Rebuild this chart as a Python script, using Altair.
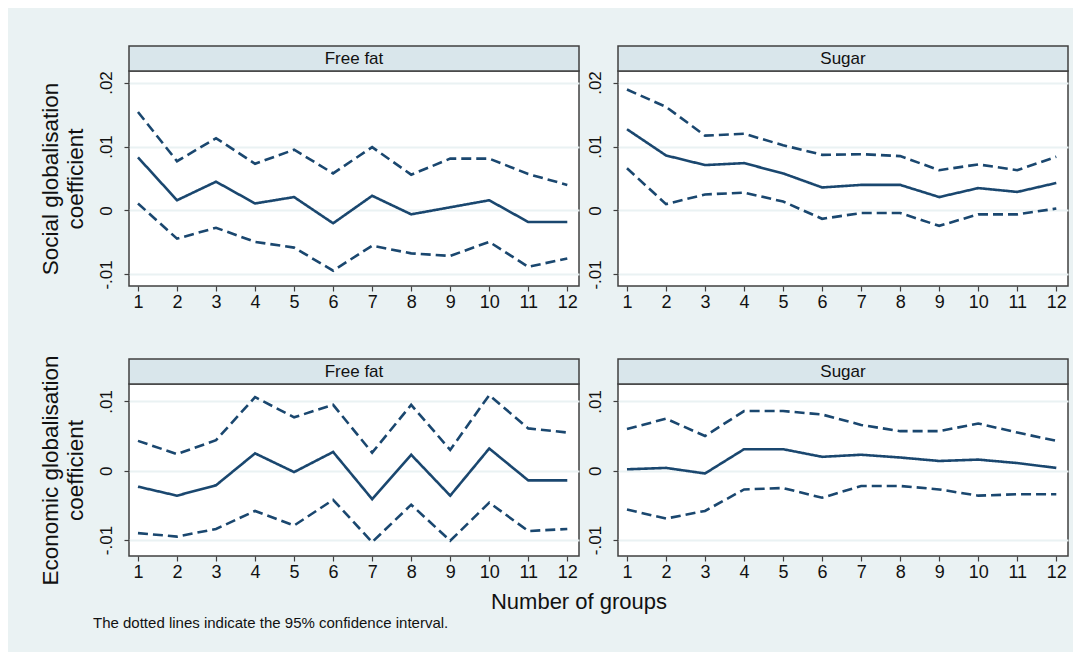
import altair as alt
import pandas as pd

groups = list(range(1, 13))

# Social globalisation, Free fat
ss_ff_mean = [0.0083, 0.0016, 0.0045, 0.0011, 0.0021, -0.0020, 0.0023, -0.0006, 0.0005, 0.0016, -0.0018, -0.0018]
ss_ff_upper = [0.0154, 0.0077, 0.0113, 0.0073, 0.0095, 0.0058, 0.0099, 0.0056, 0.0081, 0.0081, 0.0057, 0.0040]
ss_ff_lower = [0.0011, -0.0044, -0.0027, -0.0049, -0.0058, -0.0094, -0.0055, -0.0067, -0.0071, -0.0049, -0.0088, -0.0075]

# Social globalisation, Sugar
ss_su_mean = [0.0127, 0.0086, 0.0071, 0.0074, 0.0058, 0.0036, 0.0040, 0.0040, 0.0021, 0.0035, 0.0029, 0.0043]
ss_su_upper = [0.0189, 0.0162, 0.0117, 0.0120, 0.0102, 0.0087, 0.0088, 0.0085, 0.0063, 0.0072, 0.0063, 0.0084]
ss_su_lower = [0.0066, 0.0010, 0.0025, 0.0028, 0.0014, -0.0013, -0.0004, -0.0004, -0.0024, -0.0006, -0.0006, 0.0003]

# Economic globalisation, Free fat
ec_ff_mean = [-0.0023, -0.0036, -0.0021, 0.0025, -0.0002, 0.0027, -0.0041, 0.0023, -0.0036, 0.0032, -0.0014, -0.0014]
ec_ff_upper = [0.0043, 0.0024, 0.0044, 0.0106, 0.0077, 0.0095, 0.0026, 0.0095, 0.0030, 0.0109, 0.0061, 0.0055]
ec_ff_lower = [-0.0090, -0.0095, -0.0084, -0.0058, -0.0079, -0.0042, -0.0103, -0.0049, -0.0101, -0.0046, -0.0087, -0.0084]

# Economic globalisation, Sugar
ec_su_mean = [0.0002, 0.0004, -0.0004, 0.0031, 0.0031, 0.0020, 0.0023, 0.0019, 0.0014, 0.0016, 0.0011, 0.0004]
ec_su_upper = [0.0060, 0.0075, 0.0050, 0.0086, 0.0086, 0.0081, 0.0066, 0.0057, 0.0057, 0.0068, 0.0055, 0.0043]
ec_su_lower = [-0.0056, -0.0069, -0.0058, -0.0027, -0.0025, -0.0039, -0.0022, -0.0022, -0.0027, -0.0036, -0.0034, -0.0034]

x_ticks = groups
top_ticks = [-0.01, 0, 0.01, 0.02]
bottom_ticks = [-0.01, 0, 0.01]

NAVY = "#1A476F"
BG = "#EAF2F3"
HDR = "#D9E6EB"
FRAME = "#404040"
FONT = "Liberation Sans"

W = 450
H_TOP = 215
H_BOT = 172
HDR_H = 25


def make_df(mean, upper, lower):
    rows = []
    for name, vals in (("estimate", mean), ("upper", upper), ("lower", lower)):
        for g, v in zip(groups, vals):
            rows.append({"group": g, "value": v, "series": name})
    return pd.DataFrame(rows)


def panel(df, header, ydom, yvals, height, ytitle=None, extras=()):
    yaxis_kwargs = dict(
        values=yvals,
        labelExpr="replace(replace(format(datum.value, '.2~f'), '0.', '.'), '\u2212', '-')",
        labelAngle=270,
        labelAlign="center",
        labelBaseline="bottom",
        labelPadding=9,
        labelFontSize=17,
        grid=True,
    )
    if ytitle is not None:
        yaxis_kwargs.update(title=ytitle, titleFontSize=22.5, titlePadding=10)
    else:
        yaxis_kwargs.update(title=None)
    lines = alt.Chart(df).mark_line(color=NAVY, strokeWidth=2.6).encode(
        x=alt.X("group:Q",
                scale=alt.Scale(domain=[0.77, 12.3], nice=False, zero=False),
                axis=alt.Axis(values=x_ticks, title=None, grid=False, labelFontSize=18,
                              labelPadding=2, format="d")),
        y=alt.Y("value:Q",
                scale=alt.Scale(domain=ydom, nice=False, zero=False),
                axis=alt.Axis(**yaxis_kwargs)),
        strokeDash=alt.StrokeDash("series:N",
                                  scale=alt.Scale(domain=["estimate", "upper", "lower"],
                                                  range=[[1, 0], [10, 5], [10, 5]]),
                                  legend=None),
    )
    hdr_rect = alt.Chart(alt.Data(values=[{"t": header}])).mark_rect(
        fill=HDR, stroke=FRAME, strokeWidth=1.5
    ).encode(x=alt.value(0), x2=alt.value(W), y=alt.value(-HDR_H), y2=alt.value(0))
    hdr_text = alt.Chart(alt.Data(values=[{"t": header}])).mark_text(
        fontSize=17, font=FONT, color="#111111", baseline="middle", align="center"
    ).encode(x=alt.value(W / 2), y=alt.value(-HDR_H / 2), text="t:N")
    layers = [lines, hdr_rect, hdr_text] + list(extras)
    return alt.layer(*layers).properties(width=W, height=height)


top_dom = [-0.0118, 0.0218]
bot_dom = [-0.0123, 0.0125]

xlabel = alt.Chart(alt.Data(values=[{"t": "Number of groups"}])).mark_text(
    fontSize=22, font=FONT, color="#111111", align="center", baseline="middle"
).encode(x=alt.value(W), y=alt.value(218), text="t:N")
note = alt.Chart(alt.Data(values=[{"t": "The dotted lines indicate the 95% confidence interval."}])).mark_text(
    fontSize=15, font=FONT, color="#111111", align="left", baseline="middle"
).encode(x=alt.value(-36), y=alt.value(239), text="t:N")

tl = panel(make_df(ss_ff_mean, ss_ff_upper, ss_ff_lower), "Free fat", top_dom, top_ticks, H_TOP,
           ytitle=["Social globalisation", "coefficient"])
tr = panel(make_df(ss_su_mean, ss_su_upper, ss_su_lower), "Sugar", top_dom, top_ticks, H_TOP)
bl = panel(make_df(ec_ff_mean, ec_ff_upper, ec_ff_lower), "Free fat", bot_dom, bottom_ticks, H_BOT,
           ytitle=["Economic globalisation", "coefficient"], extras=(xlabel, note))
br = panel(make_df(ec_su_mean, ec_su_upper, ec_su_lower), "Sugar", bot_dom, bottom_ticks, H_BOT)

chart = alt.concat(tl, tr, bl, br, columns=2, spacing={"row": 98, "column": 39}, bounds="flush").properties(
    background=BG,
    padding={"left": 30, "top": 36, "right": 3, "bottom": 20},
).resolve_scale(y="independent").configure_view(
    stroke=FRAME, strokeWidth=1.5, fill="white"
).configure_axis(
    domain=False,
    tickSize=5,
    tickColor=FRAME,
    tickWidth=1.2,
    gridColor=BG,
    gridWidth=2,
    labelFont=FONT,
    titleFont=FONT,
    labelColor="#111111",
    titleColor="#111111",
    titleFontWeight="normal",
)

chart.save("out.html", embed_options={"renderer": "svg", "actions": False})
